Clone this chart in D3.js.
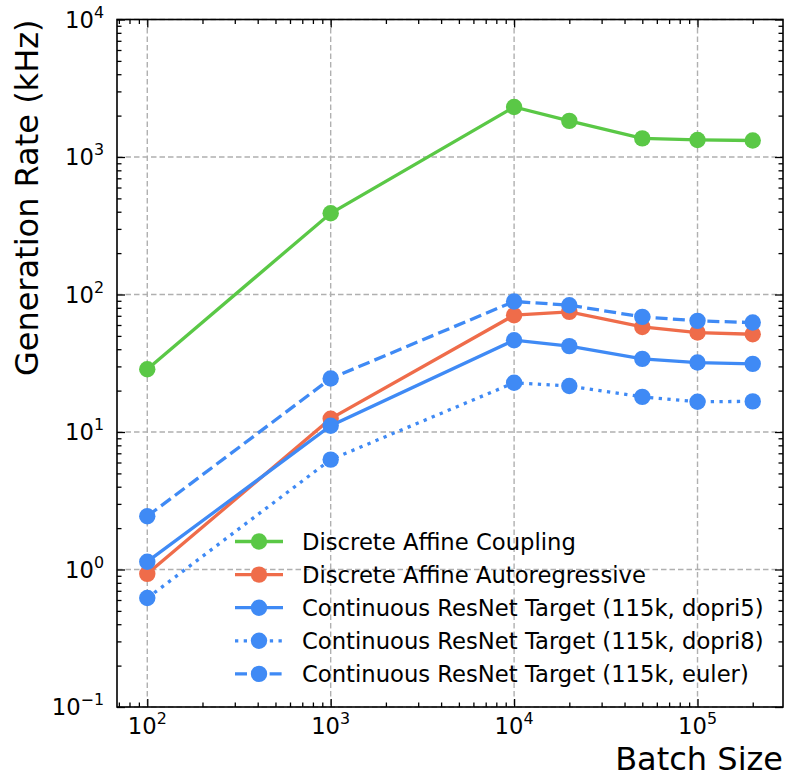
<!DOCTYPE html>
<html>
<head>
<meta charset="utf-8">
<script src="https://cdn.jsdelivr.net/npm/d3@7"></script>
<style>
  body { margin: 0; background: #fff; }
  text { font-family: "DejaVu Sans", sans-serif; fill: #000; }
</style>
</head>
<body>
<div id="chart"></div>
<script>
// batch sizes on the x axis
const batchSizes = [100, 1000, 10000, 20000, 50000, 100000, 200000];

// generation rates (kHz)
const affineCoupling = [28.6, 390, 2310, 1830, 1365, 1330, 1318];
const affineAutoregressive = [0.93, 12.5, 70.7, 74.8, 58.1, 52.9, 51.4];
const resnetDopri5 = [1.14, 11.1, 46.5, 42.1, 34.0, 32.0, 31.3];
const resnetDopri8 = [0.62, 6.3, 22.8, 21.6, 18.0, 16.6, 16.7];
const resnetEuler = [2.44, 24.5, 89, 83.6, 68.7, 64.3, 62.5];

const seriesNames = [
  'Discrete Affine Coupling',
  'Discrete Affine Autoregressive',
  'Continuous ResNet Target (115k, dopri5)',
  'Continuous ResNet Target (115k, dopri8)',
  'Continuous ResNet Target (115k, euler)'
];

const xMajor = [100, 1000, 10000, 100000];
const yMajor = [0.1, 1, 10, 100, 1000, 10000];

const green = '#5ac846', orange = '#ef6c4a', blue = '#3f8af5';
const series = [
  {name: seriesNames[0], values: affineCoupling, color: green, dash: null},
  {name: seriesNames[1], values: affineAutoregressive, color: orange, dash: null},
  {name: seriesNames[2], values: resnetDopri5, color: blue, dash: null},
  {name: seriesNames[3], values: resnetDopri8, color: blue, dash: '3.3,5.4'},
  {name: seriesNames[4], values: resnetEuler, color: blue, dash: '12,5.3'}
];

const W = 788, H = 777;
const margin = {top: 19.5, right: 5, bottom: 70, left: 117};
const width = W - margin.left - margin.right;
const height = H - margin.top - margin.bottom;

// matplotlib style 5% log margins on x
const lx0 = Math.log10(100), lx1 = Math.log10(200000), pad = (lx1 - lx0) * 0.05;
const x = d3.scaleLog().domain([Math.pow(10, lx0 - pad), Math.pow(10, lx1 + pad)]).range([0, width]);
const y = d3.scaleLog().domain([0.1, 10000]).range([height, 0]);

const minorOf = (sc) => {
  const [a, b] = sc.domain();
  const out = [];
  for (let e = Math.floor(Math.log10(a)); e <= Math.ceil(Math.log10(b)); e++) {
    for (let m = 2; m <= 9; m++) {
      const v = m * Math.pow(10, e);
      if (v > a && v < b) out.push(v);
    }
  }
  return out;
};
const xMinor = minorOf(x), yMinor = minorOf(y);

const svg = d3.select('#chart').append('svg')
  .attr('width', W).attr('height', H);
const g = svg.append('g').attr('transform', `translate(${margin.left},${margin.top})`);

// grid
g.append('g').selectAll('line').data(xMajor).enter().append('line')
  .attr('x1', d => x(d)).attr('x2', d => x(d)).attr('y1', 0).attr('y2', height)
  .attr('stroke', '#b0b0b0').attr('stroke-width', 1.4).attr('stroke-dasharray', '5.5,3');
g.append('g').selectAll('line').data(yMajor).enter().append('line')
  .attr('y1', d => y(d)).attr('y2', d => y(d)).attr('x1', 0).attr('x2', width)
  .attr('stroke', '#b0b0b0').attr('stroke-width', 1.4).attr('stroke-dasharray', '5.5,3');

// series
const line = d3.line().x(d => x(d[0])).y(d => y(d[1]));
series.forEach(s => {
  const pts = batchSizes.map((b, i) => [b, s.values[i]]);
  g.append('path')
    .attr('d', line(pts))
    .attr('fill', 'none')
    .attr('stroke', s.color)
    .attr('stroke-width', 3.3)
    .attr('stroke-dasharray', s.dash);
  g.append('g').selectAll('circle').data(pts).enter().append('circle')
    .attr('cx', d => x(d[0])).attr('cy', d => y(d[1]))
    .attr('r', 8.2).attr('fill', s.color);
});

// axes with inward ticks on all sides
const noLabel = () => '';
function addAxis(axisFn, scale, ticks, size, transform) {
  g.append('g').attr('transform', transform)
    .call(axisFn(scale).tickValues(ticks).tickSize(size).tickFormat(noLabel))
    .call(a => a.select('.domain').remove())
    .call(a => a.selectAll('line').attr('stroke', '#000').attr('stroke-width', 1.3));
}
addAxis(d3.axisBottom, x, xMajor, -8, `translate(0,${height})`);
addAxis(d3.axisBottom, x, xMinor, -4.5, `translate(0,${height})`);
addAxis(d3.axisTop, x, xMajor, -8, 'translate(0,0)');
addAxis(d3.axisTop, x, xMinor, -4.5, 'translate(0,0)');
addAxis(d3.axisLeft, y, yMajor, -8, 'translate(0,0)');
addAxis(d3.axisLeft, y, yMinor, -4.5, 'translate(0,0)');
addAxis(d3.axisRight, y, yMajor, -8, `translate(${width},0)`);
addAxis(d3.axisRight, y, yMinor, -4.5, `translate(${width},0)`);

g.append('rect').attr('width', width).attr('height', height)
  .attr('fill', 'none').attr('stroke', '#000').attr('stroke-width', 1.6);

// tick labels: 10^k
const fs = 22.7;
function powLabel(sel) {
  sel.append('tspan').text('10');
  sel.append('tspan').attr('dy', -fs * 0.42).attr('font-size', fs * 0.7)
    .text(d => Math.round(Math.log10(d)) < 0 ? '\u2212' + Math.abs(Math.round(Math.log10(d))) : Math.round(Math.log10(d)));
}
g.append('g').selectAll('text').data(xMajor).enter().append('text')
  .attr('x', d => x(d)).attr('y', height + 26.5)
  .attr('text-anchor', 'middle').attr('font-size', fs)
  .call(powLabel);
g.append('g').selectAll('text').data(yMajor).enter().append('text')
  .attr('x', -13).attr('y', d => y(d) + 8)
  .attr('text-anchor', 'end').attr('font-size', fs)
  .call(powLabel);

// axis labels
g.append('text')
  .attr('x', width).attr('y', height + 63)
  .attr('text-anchor', 'end').attr('font-size', 32)
  .text('Batch Size');
g.append('text')
  .attr('transform', `translate(${-79},0) rotate(-90)`)
  .attr('text-anchor', 'end').attr('font-size', 32)
  .text('Generation Rate (kHz)');

// legend
const legend = svg.append('g').attr('transform', 'translate(235,541.5)');
series.forEach((s, i) => {
  const row = legend.append('g').attr('transform', `translate(0,${i * 33.1})`);
  row.append('line').attr('x1', 0).attr('x2', 48).attr('y1', 0).attr('y2', 0)
    .attr('stroke', s.color).attr('stroke-width', 3.3).attr('stroke-dasharray', s.dash);
  row.append('circle').attr('cx', 24).attr('cy', 0).attr('r', 8.2).attr('fill', s.color);
  row.append('text').attr('x', 67).attr('y', 8.2).attr('font-size', fs).text(s.name);
});
</script>
</body>
</html>
